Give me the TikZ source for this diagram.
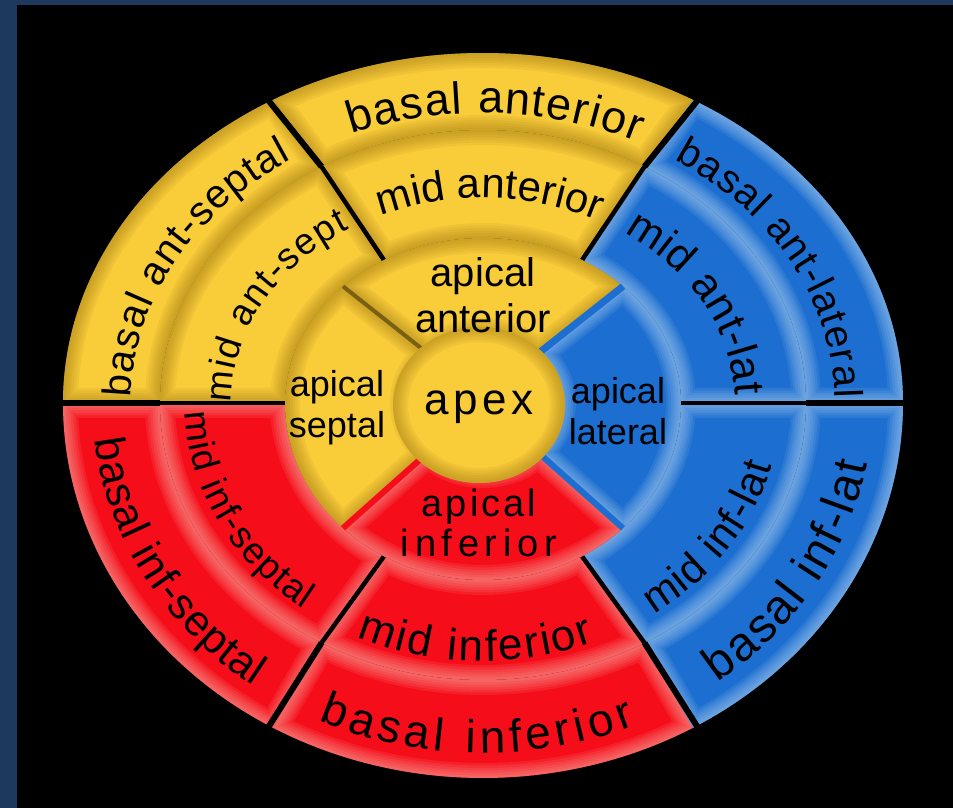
\documentclass[tikz,border=0pt]{standalone}
\usepackage{fontspec}
\setmainfont{Liberation Sans}
\usetikzlibrary{decorations.text}

\definecolor{navyframe}{RGB}{30,57,94}
\definecolor{segyellow}{RGB}{249,204,58}
\definecolor{segblue}{RGB}{28,110,208}
\definecolor{segred}{RGB}{245,14,26}
\definecolor{glowyellow}{RGB}{150,112,14}
\definecolor{glowblue}{RGB}{215,236,252}
\definecolor{glowred}{RGB}{255,215,200}
\definecolor{gapolive}{RGB}{120,96,20}

% band between two ellipses, from angle #1 to #2 (inner #3/#4, outer #5/#6)
\newcommand\bandpath[6]{(#1:#5pt and #6pt) arc[start angle=#1, end angle=#2, x radius=#5pt, y radius=#6pt]
  -- (#2:#3pt and #4pt) arc[start angle=#2, end angle=#1, x radius=#3pt, y radius=#4pt] -- cycle}
% same, for a band that crosses the axis at angle #2
\newcommand\bandcross[9]{(#1:#7pt and #8pt) arc[start angle=#1, end angle=#2, x radius=#7pt, y radius=#8pt]
  arc[start angle=#2, end angle=#3, x radius=#7pt, y radius=#9pt]
  -- (#3:#4pt and #6pt) arc[start angle=#3, end angle=#2, x radius=#4pt, y radius=#6pt]
  arc[start angle=#2, end angle=#1, x radius=#4pt, y radius=#5pt] -- cycle}
% filled segment with a soft rim
\newcommand\ringseg[3]{%
  \fill[#1] #3;
  \begin{scope}
    \clip #3;
    \foreach \w in {30,25,...,5}
      \draw[#2, line width=\w pt, opacity=.09] #3;
  \end{scope}}
% text set along an elliptic arc
\newcommand\arclabel[6]{\path[curved={|\fontsize{#1}{#1}\selectfont|#2}]
  (#3:#5pt and #6pt) arc[start angle=#3, end angle=#4, x radius=#5pt, y radius=#6pt];}

\tikzset{
  curved/.style={decorate, decoration={text along path, text align={fit to path}, text={#1}}},
  divider/.style={line width=6pt, black},
  apical/.style={align=center, inner sep=0pt, font=\fontsize{36}{41}\selectfont},
}

\begin{document}
\begin{tikzpicture}[x=1pt, y=1pt]
    % frame and background
        \fill[navyframe] (-483,-405) rectangle (470,403);
        \fill[black] (-466,-405) rectangle (470,398);
        \useasboundingbox (-483,-405) rectangle (470,403);

    % basal ring
        \ringseg{segblue}{glowblue}{\bandpath{0}{60}{323}{273}{420}{350}}
        \ringseg{segyellow}{glowyellow}{\bandpath{60}{120}{323}{273}{420}{350}}
        \ringseg{segyellow}{glowyellow}{\bandpath{120}{180}{323}{273}{420}{350}}
        \ringseg{segred}{glowred}{\bandpath{180}{240}{323}{277}{420}{375}}
        \ringseg{segred}{glowred}{\bandpath{240}{300}{323}{277}{420}{375}}
        \ringseg{segblue}{glowblue}{\bandpath{300}{360}{323}{277}{420}{375}}

    % mid ring
        \ringseg{segblue}{glowblue}{\bandpath{0}{60}{198}{165}{323}{273}}
        \ringseg{segyellow}{glowyellow}{\bandpath{60}{120}{198}{165}{323}{273}}
        \ringseg{segyellow}{glowyellow}{\bandpath{120}{180}{198}{165}{323}{273}}
        \ringseg{segred}{glowred}{\bandpath{180}{240}{198}{177}{323}{277}}
        \ringseg{segred}{glowred}{\bandpath{240}{300}{198}{177}{323}{277}}
        \ringseg{segblue}{glowblue}{\bandpath{300}{360}{198}{177}{323}{277}}

    % dividers between basal and mid segments
        \foreach \ang/\yin/\ymid/\yout in {0/165/273/350, 60/165/273/350, 120/165/273/350,
                                          180/165/273/350, 240/177/277/375, 300/177/277/375} {
            \coordinate (in\ang) at (\ang:198pt and \yin pt);
            \coordinate (mid\ang) at (\ang:323pt and \ymid pt);
            \coordinate (out\ang) at (\ang:430pt and \yout pt);
            \draw[divider, line width=4.5pt] (in\ang) -- (mid\ang);
            \draw[divider] (mid\ang) -- (out\ang);
        }

    % apical ring
        \ringseg{segyellow}{glowyellow}{\bandpath{45}{135}{78}{70}{198}{165}}
        \ringseg{segyellow}{glowyellow}{\bandcross{135}{180}{225}{78}{70}{70}{198}{165}{177}}
        \ringseg{segred}{glowred}{\bandpath{225}{315}{78}{70}{198}{177}}
        \ringseg{segblue}{glowblue}{\bandcross{-45}{0}{45}{78}{70}{70}{198}{177}{165}}

    % gaps between apical segments
        \foreach \ang/\yout/\col/\wd in {45/165/segblue/7, 135/165/gapolive/4, 225/177/segred/6, 315/177/segblue/6}
            \draw[line width=\wd pt, \col] (\ang:78pt and 70pt) -- (\ang:198pt and \yout pt);

    % apex
        \ringseg{segyellow}{glowyellow}{(-4,-2) ellipse [x radius=86pt, y radius=78pt]}

    % basal and mid labels
        \arclabel{45}{basal anterior}{112}{64}{352}{290}
        \arclabel{40}{basal ant-septal}{179}{123}{352}{290}
        \arclabel{40}{basal ant-lateral}{57}{1}{352}{290}
        \arclabel{42}{mid anterior}{114}{63}{252}{205}
        \arclabel{37}{mid ant-sept}{180}{122}{252}{205}
        \arclabel{43}{mid ant-lat}{56}{2}{252}{205}
        \arclabel{43}{basal inf-septal}{186}{234}{390}{350}
        \arclabel{46}{basal inferior}{245}{293}{390}{350}
        \arclabel{48}{basal inf-lat}{307}{350}{390}{350}
        \arclabel{37}{mid inf-septal}{182}{233}{298}{258}
        \arclabel{44}{mid inferior}{245}{292}{298}{258}
        \arclabel{42}{mid inf-lat}{305}{346}{298}{258}

    % apical labels
        \node[apical, font=\fontsize{40}{46}\selectfont] (apant) at (0,108) {apical\\anterior};
        \node[apical] (apsep) at (-146,-5) {apical\\septal};
        \node[apical] (aplat) at (135,-8) {apical\\lateral};
        \node[apical, font=\fontsize{38}{40}\selectfont] (apinf) at (-4,-120)
            {{\addfontfeature{LetterSpace=8}apical}\\{\addfontfeature{LetterSpace=15}inferior}};
        \node[font=\fontsize{44}{44}\selectfont\addfontfeature{LetterSpace=10}, inner sep=0pt] (apex) at (-4,-4) {apex};
\end{tikzpicture}
\end{document}
